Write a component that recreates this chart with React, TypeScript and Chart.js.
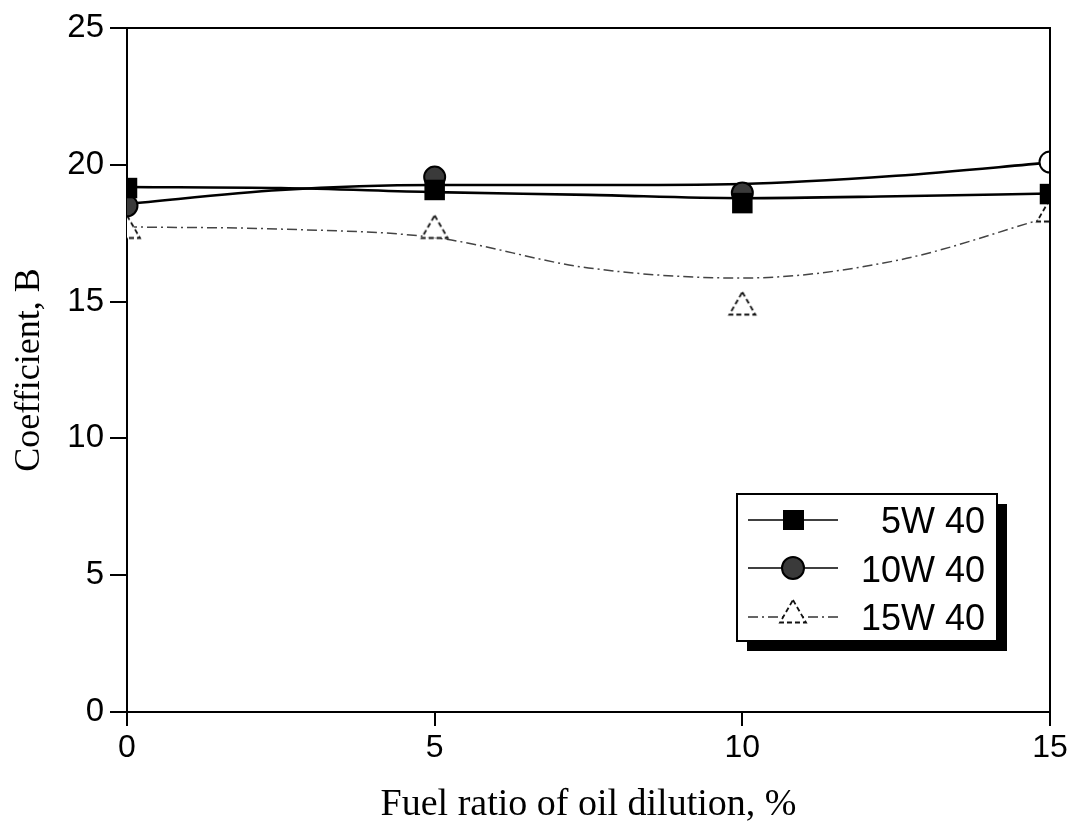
import React, { useEffect, useRef } from "react";
import { Chart, registerables } from "chart.js";

Chart.register(...registerables);

// ---- data ----
const seriesNames = ["5W 40", "10W 40", "15W 40"];
const fuelRatio = [0, 5, 10, 15];
const coef5W40 = [19.15, 19.08, 18.6, 18.93];
const coef10W40 = [18.5, 19.55, 18.97, 20.1];
const coef15W40 = [17.6, 17.6, 14.8, 18.2];

// smoothed trend curves drawn through the figure
const curveX = [0, 2.5, 5, 7.5, 10, 12.5, 15];
const curve5W40 = [19.19, 19.15, 19.0, 18.9, 18.78, 18.85, 18.95];
const curve10W40 = [18.57, 19.08, 19.26, 19.26, 19.3, 19.6, 20.08];
const curve15W40 = [17.73, 17.65, 17.34, 16.23, 15.86, 16.5, 18.1];

const xTicks = [0, 5, 10, 15];
const yTicks = [0, 5, 10, 15, 20, 25];
const xTitle = "Fuel ratio of oil dilution, %";
const yTitle = "Coefficient, B";

const SANS = '"Liberation Sans", Arial, sans-serif';
const SERIF = '"Liberation Serif", "Times New Roman", serif';

function pts(xs: number[], ys: number[]) {
  return xs.map((x, i) => ({ x, y: ys[i] }));
}

function makeTriangle(): HTMLCanvasElement {
  const size = 34;
  const r = 15;
  const c = document.createElement("canvas");
  c.width = size;
  c.height = size;
  const g = c.getContext("2d")!;
  const cx = size / 2;
  const cy = size / 2;
  const s = Math.sin((2 * Math.PI) / 3);
  g.beginPath();
  g.moveTo(cx, cy - r);
  g.lineTo(cx + r * s, cy + r / 2);
  g.lineTo(cx - r * s, cy + r / 2);
  g.closePath();
  g.fillStyle = "#fff";
  g.fill();
  g.strokeStyle = "#111";
  g.lineWidth = 1.8;
  g.setLineDash([5, 3]);
  g.stroke();
  return c;
}

export default function App() {
  const ref = useRef<HTMLCanvasElement | null>(null);

  useEffect(() => {
    if (!ref.current) return;
    const tri = makeTriangle();

    const framePlugin = {
      id: "frame",
      afterDatasetsDraw(chart: any) {
        const { ctx, chartArea } = chart;
        const { left, top, right, bottom } = chartArea;
        ctx.save();
        ctx.strokeStyle = "#000";
        ctx.lineWidth = 2;
        ctx.beginPath();
        ctx.moveTo(left, top);
        ctx.lineTo(right, top);
        ctx.lineTo(right, bottom);
        ctx.stroke();
        ctx.restore();
      },
    };

    const legendPlugin = {
      id: "boxLegend",
      afterDraw(chart: any) {
        const ctx = chart.ctx as CanvasRenderingContext2D;
        const L = 737, T = 494, R = 997, B = 641;
        ctx.save();
        ctx.fillStyle = "#000";
        ctx.fillRect(L + 10, T + 10, R - L, B - T);
        ctx.fillStyle = "#fff";
        ctx.fillRect(L, T, R - L, B - T);
        ctx.strokeStyle = "#000";
        ctx.lineWidth = 2;
        ctx.strokeRect(L, T, R - L, B - T);

        const rows = [520, 568, 617];
        const x0 = 748, x1 = 838, xm = 793;
        rows.forEach((y, i) => {
          ctx.save();
          if (i < 2) {
            ctx.strokeStyle = "#000";
            ctx.lineWidth = 1.6;
            ctx.beginPath();
            ctx.moveTo(x0, y);
            ctx.lineTo(x1, y);
            ctx.stroke();
            if (i === 0) {
              ctx.fillStyle = "#000";
              ctx.fillRect(xm - 10, y - 10, 21, 20);
            } else {
              ctx.beginPath();
              ctx.arc(xm, y, 11, 0, Math.PI * 2);
              ctx.fillStyle = "#3a3a3a";
              ctx.fill();
              ctx.lineWidth = 2;
              ctx.stroke();
            }
          } else {
            ctx.strokeStyle = "#333";
            ctx.lineWidth = 1.4;
            ctx.setLineDash([10, 4, 2, 4]);
            ctx.beginPath();
            ctx.moveTo(x0, y);
            ctx.lineTo(x1, y);
            ctx.stroke();
            ctx.drawImage(tri, xm - 17, y - 19, 34, 34);
          }
          ctx.restore();
        });

        ctx.fillStyle = "#000";
        ctx.font = `36px ${SANS}`;
        ctx.textAlign = "right";
        ctx.textBaseline = "alphabetic";
        const baselines = [533, 582, 630];
        seriesNames.forEach((name, i) => ctx.fillText(name, 985, baselines[i]));
        ctx.restore();
      },
    };

    const chart = new Chart(ref.current, {
      type: "line",
      data: {
        datasets: [
          {
            label: seriesNames[0] + " fit",
            data: pts(curveX, curve5W40),
            borderColor: "#000",
            borderWidth: 2.6,
            pointRadius: 0,
            cubicInterpolationMode: "monotone",
            fill: false,
            order: 3,
          },
          {
            label: seriesNames[1] + " fit",
            data: pts(curveX, curve10W40),
            borderColor: "#000",
            borderWidth: 2.6,
            pointRadius: 0,
            cubicInterpolationMode: "monotone",
            fill: false,
            order: 3,
          },
          {
            label: seriesNames[2] + " fit",
            data: pts(curveX, curve15W40),
            borderColor: "#444",
            borderWidth: 1.5,
            borderDash: [10, 4, 2, 4],
            pointRadius: 0,
            cubicInterpolationMode: "monotone",
            fill: false,
            order: 3,
          },
          {
            label: seriesNames[2],
            data: pts(fuelRatio, coef15W40),
            showLine: false,
            pointStyle: tri as any,
            pointRadius: 15,
            clip: 0,
            order: 2,
          },
          {
            label: seriesNames[1],
            data: pts(fuelRatio, coef10W40),
            showLine: false,
            pointStyle: "circle",
            pointRadius: 10.5,
            pointBorderWidth: 2,
            pointBorderColor: "#000",
            pointBackgroundColor: ["#3a3a3a", "#3a3a3a", "#3a3a3a", "#fff"],
            clip: 0,
            order: 1,
          },
          {
            label: seriesNames[0],
            data: pts(fuelRatio, coef5W40),
            showLine: false,
            pointStyle: "rect",
            pointRadius: 14.5,
            pointBorderWidth: 0,
            pointBackgroundColor: "#000",
            pointBorderColor: "#000",
            clip: 0,
            order: 0,
          },
        ] as any,
      },
      options: {
        animation: false,
        responsive: false,
        maintainAspectRatio: false,
        events: [],
        layout: { padding: { top: 28, right: 19, left: 0, bottom: 0 } },
        plugins: {
          legend: { display: false },
          tooltip: { enabled: false },
          title: { display: false },
        },
        scales: {
          x: {
            type: "linear",
            min: 0,
            max: 15,
            afterBuildTicks: (s: any) => {
              s.ticks = xTicks.map((v) => ({ value: v }));
            },
            afterFit: (s: any) => {
              s.height = 121;
              s.paddingRight = 0;
              s.paddingLeft = 0;
            },
            grid: {
              display: true,
              drawOnChartArea: false,
              drawTicks: true,
              tickLength: 14,
              color: "#000",
              lineWidth: 2,
            },
            border: { display: true, color: "#000", width: 2 },
            ticks: {
              color: "#000",
              font: { family: SANS, size: 32 },
              padding: 3,
              maxRotation: 0,
            },
            title: {
              display: true,
              text: xTitle,
              color: "#000",
              font: { family: SERIF, size: 38 },
              padding: { top: 0, bottom: 5 },
            },
          },
          y: {
            type: "linear",
            min: 0,
            max: 25,
            afterBuildTicks: (s: any) => {
              s.ticks = yTicks.map((v) => ({ value: v }));
            },
            afterFit: (s: any) => {
              s.width = 127;
            },
            grid: {
              display: true,
              drawOnChartArea: false,
              drawTicks: true,
              tickLength: 17,
              color: "#000",
              lineWidth: 2,
            },
            border: { display: true, color: "#000", width: 2 },
            ticks: {
              color: "#000",
              font: { family: SANS, size: 33 },
              padding: 6,
            },
            title: {
              display: true,
              text: yTitle,
              color: "#000",
              font: { family: SERIF, size: 36 },
              padding: { top: 8, bottom: 0 },
            },
          },
        },
      } as any,
      plugins: [framePlugin, legendPlugin],
    });

    return () => chart.destroy();
  }, []);

  return (
    <div
      style={{
        position: "absolute",
        left: 0,
        top: 0,
        width: 1069,
        height: 833,
        background: "#fff",
      }}
    >
      <canvas ref={ref} width={1069} height={833} />
    </div>
  );
}
